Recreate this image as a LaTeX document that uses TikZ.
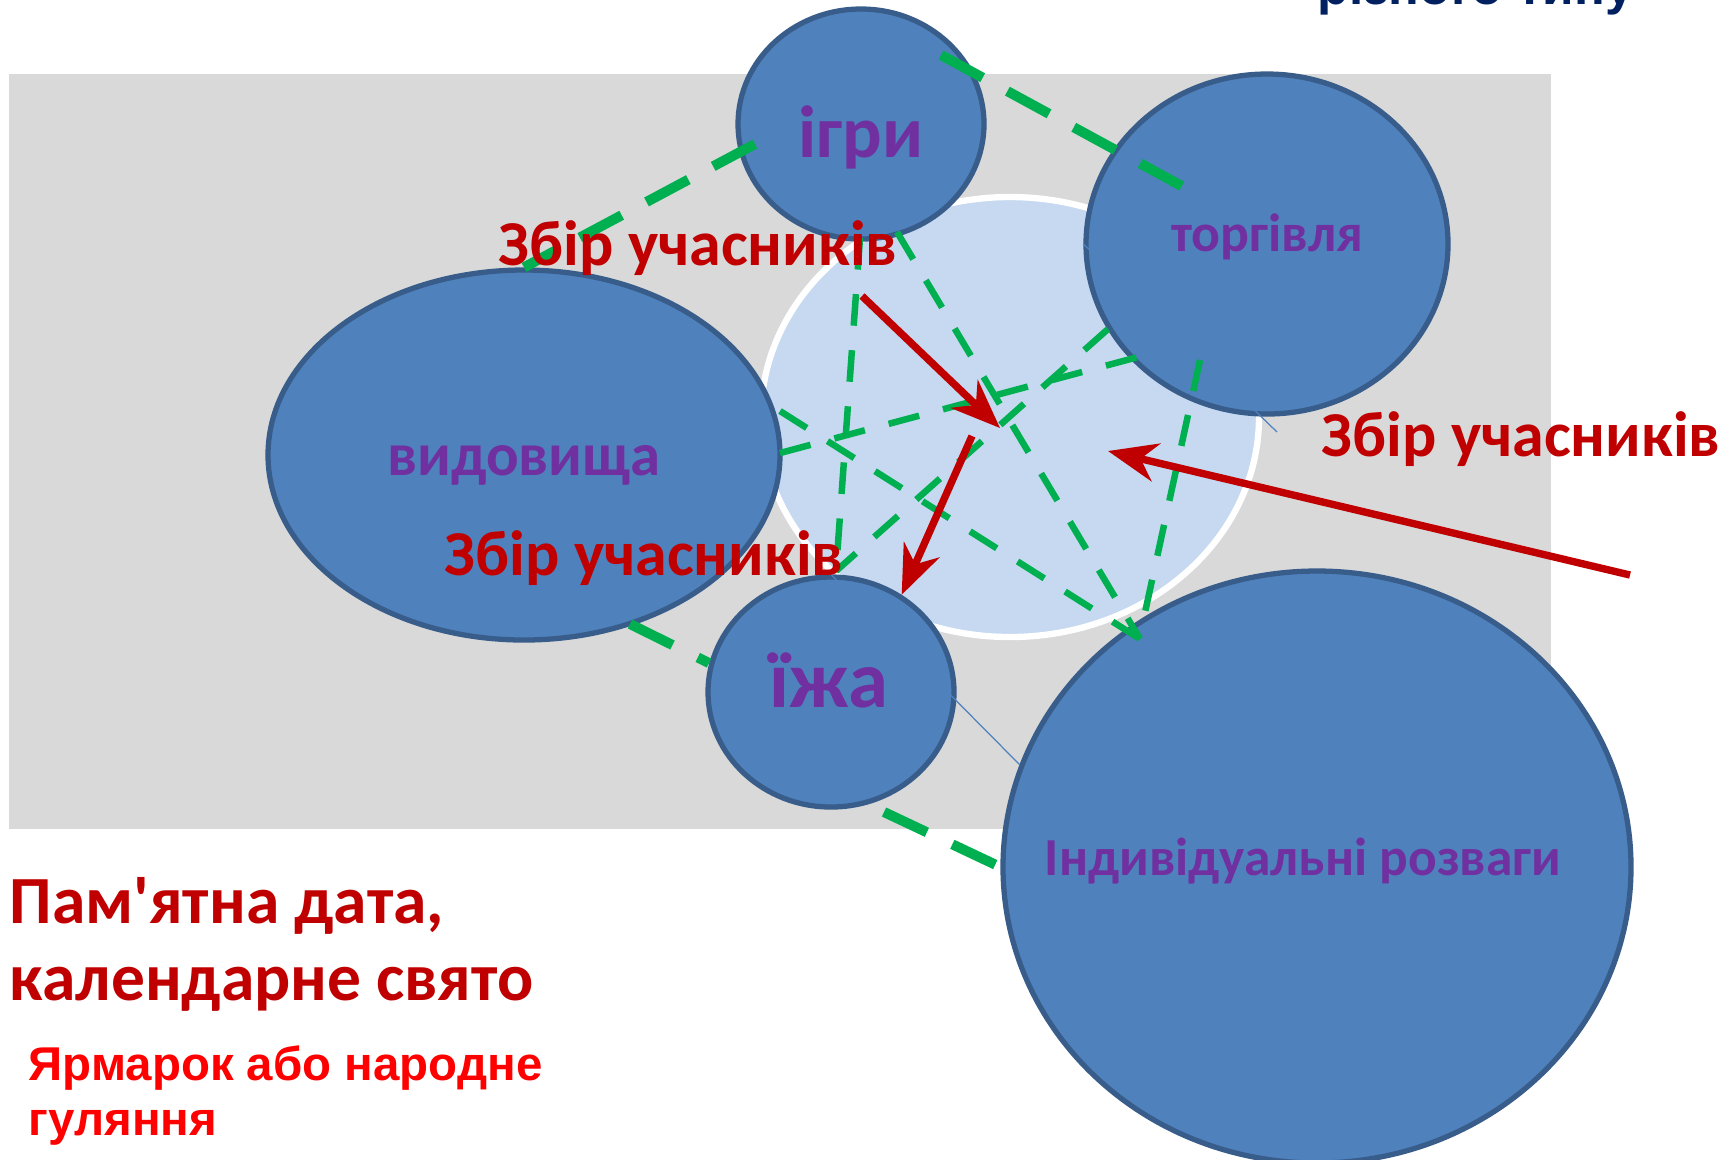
\documentclass[tikz,border=0pt]{standalone}
\usepackage{fontspec}
\setmainfont{Carlito}
\newfontfamily\arialfont{Liberation Sans}
\usetikzlibrary{shapes.geometric, arrows.meta, calc, positioning}

\definecolor{blobfill}{HTML}{4F81BD}
\definecolor{blobline}{HTML}{385D8A}
\definecolor{hubfill}{HTML}{C6D9F1}
\definecolor{backgray}{HTML}{D9D9D9}
\definecolor{linkgreen}{HTML}{00B050}
\definecolor{darkred}{HTML}{C00000}
\definecolor{labpurple}{HTML}{7030A0}
\definecolor{titlenavy}{HTML}{002060}

\tikzset{
  blob/.style={ellipse, draw=blobline, line width=1.5pt, fill=blobfill, inner sep=0pt},
  hub/.style={ellipse, draw=white, line width=1.8pt, fill=hubfill, inner sep=0pt},
  thicklink/.style={linkgreen, line width=2.85pt, dash pattern=on 13.5pt off 8pt},
  thinlink/.style={linkgreen, line width=1.85pt, dash pattern=on 9pt off 7pt},
  pull/.style={darkred, line width=2.1pt, -{Stealth[length=14pt, width=11pt, inset=4.5pt]}},
  wire/.style={blobfill, line width=0.35pt},
  what/.style={text=labpurple, anchor=base, inner sep=0pt},
  gather/.style={text=darkred, anchor=base, inner sep=0pt, font=\bfseries\fontsize{18.2}{22}\selectfont},
}

\begin{document}
\begin{tikzpicture}
 \useasboundingbox (0,-11.59) rectangle (17.33,0);
 \fill[backgray] (0.09,-0.74) rectangle (15.51,-8.29);

 \node[hub, minimum width=4.98cm, minimum height=4.40cm] (hub) at (10.10,-4.17) {};
 \node[blob, minimum width=2.46cm, minimum height=2.30cm] (igry) at (8.61,-1.24) {};
 \node[blob, minimum width=3.62cm, minimum height=3.40cm] (torg) at (12.67,-2.44) {};
 \node[blob, minimum width=5.12cm, minimum height=3.70cm] (vyd) at (5.24,-4.55) {};
 \node[blob, minimum width=2.46cm, minimum height=2.30cm] (yizha) at (8.31,-6.92) {};
 \node[blob, minimum width=6.28cm, minimum height=5.92cm] (rozv) at (13.17,-8.67) {};

 % ends of the links
 \coordinate (igry-ne) at ($(igry)+(0.80,0.69)$);
 \coordinate (igry-w) at ($(igry)+(-1.06,-0.20)$);
 \coordinate (igry-s) at ($(igry)+(-0.01,-1.14)$);
 \coordinate (igry-se) at ($(igry)+(0.36,-1.08)$);
 \coordinate (torg-in) at ($(torg)+(-0.67,0.48)$);
 \coordinate (torg-sw) at ($(torg)+(-1.29,-1.13)$);
 \coordinate (torg-w) at ($(torg)+(-1.59,-0.85)$);
 \coordinate (torg-s) at ($(torg)+(-0.67,-1.16)$);
 \coordinate (vyd-se) at ($(vyd)+(1.06,-1.69)$);
 \coordinate (vyd-e) at ($(vyd)+(2.56,0.02)$);
 \coordinate (vyd-ne) at ($(vyd)+(2.56,0.44)$);
 \coordinate (yizha-w) at ($(yizha)+(-1.22,0.29)$);
 \coordinate (yizha-n) at ($(yizha)+(0.05,1.21)$);
 \coordinate (yizha-s) at ($(yizha)+(0.53,-1.20)$);
 \coordinate (rozv-nw) at ($(rozv)+(-1.77,2.28)$);
 \coordinate (rozv-n) at ($(rozv)+(-1.73,2.50)$);

 \draw[thicklink] (igry-ne) -- (torg-in);
 \draw[thicklink] (igry-w) -- (vyd.north);
 \draw[thicklink] (vyd-se) -- (yizha-w);
 \draw[thicklink] (yizha-s) -- (rozv.west);

 \draw[thinlink] (igry-s) -- (yizha-n);
 \draw[thinlink] (igry-se) -- (rozv-nw);
 \draw[thinlink] (vyd-e) -- (torg-sw);
 \draw[thinlink] (vyd-ne) -- (rozv-nw);
 \draw[thinlink] (torg-w) -- (yizha-n);
 \draw[thinlink] (torg-s) -- (rozv-n);

 \coordinate (wire-end) at (12.77,-4.32);
 \draw[wire] (torg.west) -- (wire-end);
 \draw[wire] (yizha.north) -- (rozv.161);

 \node[what, font=\bfseries\fontsize{21}{25}\selectfont] (igrytext) at (8.61,-1.57) {ігри};
 \node[what, font=\bfseries\fontsize{15.3}{18}\selectfont] (torgtext) at (12.67,-2.51) {торгівля};
 \node[what, font=\bfseries\fontsize{17.3}{21}\selectfont] (vydtext) at (5.24,-4.75) {видовища};
 \node[what, font=\bfseries\fontsize{23}{27}\selectfont] (yizhatext) at (8.29,-7.07) {їжа};
 \node[what, font=\bfseries\fontsize{15.2}{18}\selectfont] (rozvtext) at (13.03,-8.75) {Індивідуальні розваги};

 \node[gather] (gatherA) at (6.98,-2.65) {Збір учасників};
 \node[gather] (gatherB) at (6.44,-5.75) {Збір учасників};
 \node[gather] (gatherC) at (15.21,-4.56) {Збір учасників};

 \coordinate (tailA) at (8.62,-2.96);
 \coordinate (tailC) at (16.30,-5.75);
 \draw[pull] (tailA) -- ($(hub)+(-0.10,-0.11)$);
 \draw[pull] ($(hub)+(-0.38,-0.19)$) -- (yizha.54);
 \draw[pull] (tailC) -- ($(hub)+(0.98,-0.34)$);

 \node[text=darkred, anchor=base west, inner sep=0pt, font=\bfseries\fontsize{19.2}{23}\selectfont] (dateA) at (0.09,-9.23) {Пам\textquotesingle ятна дата,};
 \node[text=darkred, anchor=base west, inner sep=0pt, font=\bfseries\fontsize{19.2}{23}\selectfont] (dateB) at (0.09,-10.00) {календарне свято};
 \node[text=red, anchor=base west, inner sep=0pt, font=\arialfont\bfseries\fontsize{13.5}{16}\selectfont] (fairA) at (0.28,-10.80) {Ярмарок або народне};
 \node[text=red, anchor=base west, inner sep=0pt, font=\arialfont\bfseries\fontsize{13.5}{16}\selectfont] (fairB) at (0.28,-11.35) {гуляння};
 \node[text=titlenavy, anchor=base west, inner sep=0pt, font=\arialfont\bfseries\fontsize{14.6}{18}\selectfont] (kind) at (13.17,-0.04) {різного типу};
\end{tikzpicture}
\end{document}
